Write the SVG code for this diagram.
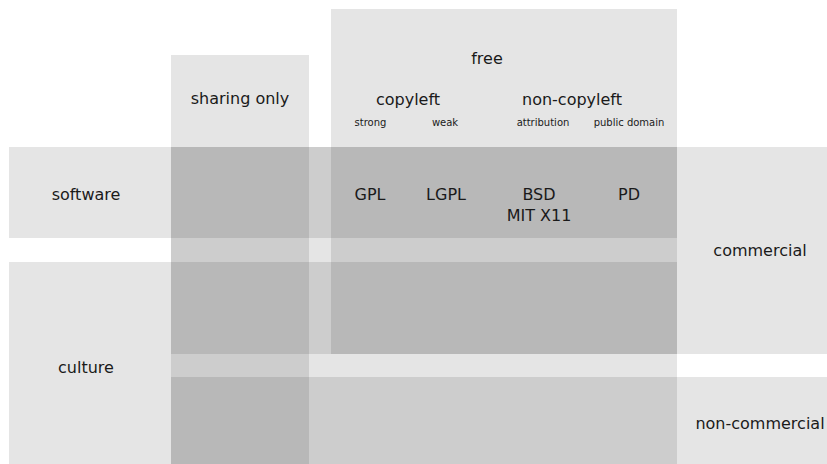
<svg xmlns="http://www.w3.org/2000/svg" width="827" height="464" viewBox="0 0 827 464">
<style>
.area{fill:#000;fill-opacity:0.1;stroke:none}
text{font-family:"DejaVu Sans","Liberation Sans",sans-serif;fill:#1a1a1a;text-anchor:middle}
.big{font-size:16px}
.small{font-size:10px}
</style>
<rect width="827" height="464" fill="#fff"/>
<g id="software">
<rect class="area" x="9" y="147" width="668" height="91"/>
<text class="big" x="86" y="200">software</text>
</g>
<g id="culture">
<rect class="area" x="9" y="262" width="668" height="202"/>
<text class="big" x="86" y="373">culture</text>
</g>
<g id="sharing-only">
<rect class="area" x="171" y="55" width="138" height="409"/>
<text class="big" x="240" y="104">sharing only</text>
</g>
<g id="free">
<rect class="area" x="331" y="9" width="346" height="345"/>
<text class="big" x="487" y="64">free</text>
</g>
<g id="copyleft">
<text class="big" x="408" y="105">copyleft</text>
<text class="small" x="370.5" y="126">strong</text>
<text class="small" x="445" y="126">weak</text>
</g>
<g id="non-copyleft">
<text class="big" x="572" y="105">non-copyleft</text>
<text class="small" x="543" y="126">attribution</text>
<text class="small" x="629" y="126">public domain</text>
</g>
<g id="commercial">
<rect class="area" x="171" y="147" width="656" height="207"/>
<text class="big" x="760" y="256">commercial</text>
</g>
<g id="non-commercial">
<rect class="area" x="171" y="377" width="656" height="87"/>
<text class="big" x="760" y="429">non-commercial</text>
</g>
<g id="licenses">
<text class="big" x="370" y="200">GPL</text>
<text class="big" x="446" y="200">LGPL</text>
<text class="big" x="539" y="200">BSD</text>
<text class="big" x="539" y="221">MIT X11</text>
<text class="big" x="629" y="200">PD</text>
</g>
<g id="connectors"/>
</svg>
